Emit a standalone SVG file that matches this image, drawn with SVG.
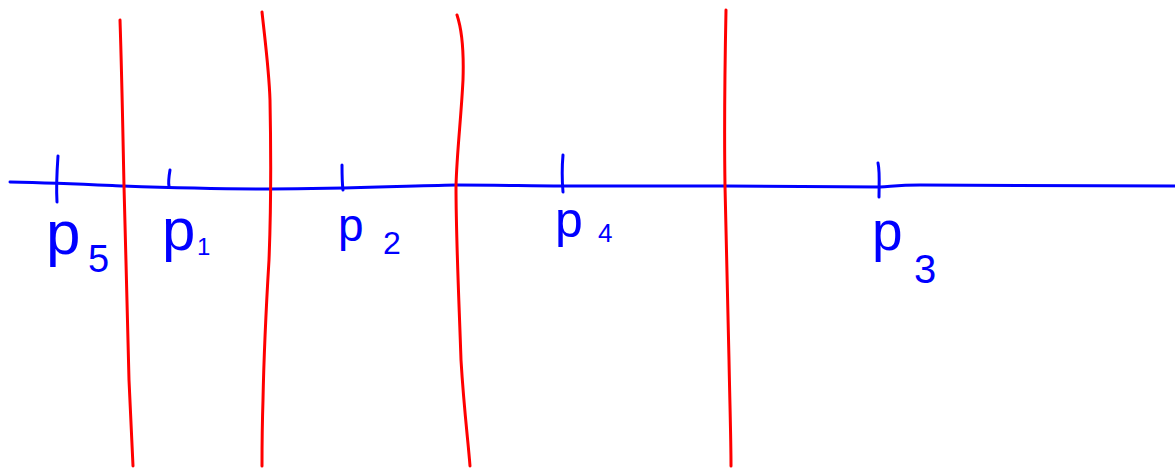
<svg xmlns="http://www.w3.org/2000/svg" width="1175" height="468" viewBox="0 0 1175 468">
<style>
.red{fill:none;stroke:#ff0000;stroke-width:3;stroke-linecap:round}
.blue{fill:none;stroke:#0000ff;stroke-width:3;stroke-linecap:round}
.p{font-family:"Liberation Sans",sans-serif;fill:#0000ff}
</style>
<rect width="1175" height="468" fill="#ffffff"/>
<g id="connectors">
<path class="blue" d="M10,182 C60,183 100,185 123,186 C180,188 230,189 270,189 C350,189 400,186 456,185 C500,185 530,186 562,186 C640,186 700,186 725,186 C800,186 850,187 880,187 C895,186 900,185 920,185 L1175,186"/>
</g>
<g id="dividers">
<path class="red" d="M120,20 C122,80 123,140 124,186 C126,250 127,320 129,380 C131,420 132,450 133,466"/>
<path class="red" d="M262,12 C265,40 269,70 270,100 C271,150 271,210 269,260 C266,310 264,350 263,400 C262,430 262,450 262,466"/>
<path class="red" d="M457,15 C462,30 464,50 463,80 C461,120 457,150 456,186 C456,240 459,300 461,360 C464,410 468,440 470,466"/>
<path class="red" d="M726,10 C725,60 724,120 725,186 C726,240 728,300 729,360 C730,410 731,440 731,466"/>
</g>
<g id="p5">
<path class="blue" d="M58,156 C57,170 56,185 57,202"/>
<text class="p" x="46" y="254" font-size="62">p</text>
<text class="p" x="88" y="272" font-size="38">5</text>
</g>
<g id="p1">
<path class="blue" d="M170,170 C169,176 168,182 169,186"/>
<text class="p" x="162" y="250" font-size="60">p</text>
<text class="p" x="197" y="255" font-size="24">1</text>
</g>
<g id="p2">
<path class="blue" d="M342,165 C342,173 342,182 343,190"/>
<text class="p" x="338" y="241" font-size="46">p</text>
<text class="p" x="383" y="254" font-size="32">2</text>
</g>
<g id="p4">
<path class="blue" d="M563,155 C562,166 562,180 563,192"/>
<text class="p" x="555" y="237" font-size="50">p</text>
<text class="p" x="598" y="242" font-size="26">4</text>
</g>
<g id="p3">
<path class="blue" d="M878,163 C880,172 879,185 879,197"/>
<text class="p" x="872" y="250" font-size="55">p</text>
<text class="p" x="914" y="283" font-size="40">3</text>
</g>
</svg>
